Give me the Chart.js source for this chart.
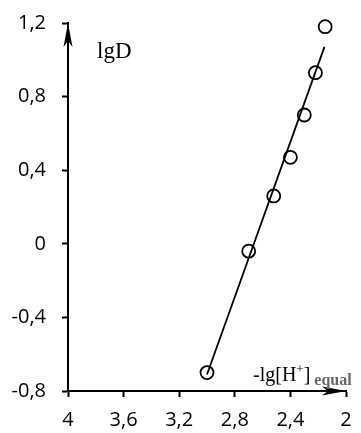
<!DOCTYPE html>
<html>
<head>
<meta charset="utf-8">
<script src="https://cdn.jsdelivr.net/npm/chart.js@4"></script>
<style>
  html, body { margin: 0; padding: 0; background: #fff; }
  #wrap { width: 361px; height: 433px; }
</style>
</head>
<body>
<div id="wrap"><canvas id="chart"></canvas></div>
<script>
// data
const pointsX = [3.0, 2.70, 2.52, 2.40, 2.30, 2.22, 2.15];
const pointsY = [-0.70, -0.04, 0.26, 0.47, 0.70, 0.93, 1.18];
const fitX = [3.0, 2.155];
const fitY = [-0.71, 1.07];
const xTicks = [4, 3.6, 3.2, 2.8, 2.4, 2];
const yTicks = [-0.8, -0.4, 0, 0.4, 0.8, 1.2];

const fmt = v => String(Number(v.toFixed(1))).replace('.', ',');

// Axis arrows + axis titles
const decor = {
    id: 'decor',
    afterDraw(chart) {
        const ctx = chart.ctx;
        const a = chart.chartArea;
        ctx.save();
        ctx.fillStyle = '#000';
        // y arrow (up)
        ctx.beginPath();
        ctx.moveTo(a.left, a.top);
        ctx.lineTo(a.left - 4.5, a.top + 24);
        ctx.lineTo(a.left, a.top + 18);
        ctx.lineTo(a.left + 4.5, a.top + 24);
        ctx.closePath();
        ctx.fill();
        // x arrow (right)
        ctx.beginPath();
        ctx.moveTo(a.right, a.bottom);
        ctx.lineTo(a.right - 24, a.bottom - 4.5);
        ctx.lineTo(a.right - 18, a.bottom);
        ctx.lineTo(a.right - 24, a.bottom + 4.5);
        ctx.closePath();
        ctx.fill();

        // lgD
        ctx.font = '23px "Liberation Serif"';
        ctx.textBaseline = 'alphabetic';
        ctx.fillText('lgD', a.left + 29, a.top + 35);

        // -lg[H+] equal
        let x = 253, y = 381;
        ctx.font = '20px "Liberation Serif"';
        ctx.fillText('-lg[H', x, y);
        x += ctx.measureText('-lg[H').width;
        ctx.font = '13px "Liberation Serif"';
        ctx.fillText('+', x, y - 8);
        x += ctx.measureText('+').width;
        ctx.font = '20px "Liberation Serif"';
        ctx.fillText(']', x, y);
        x += ctx.measureText(']').width + 4;
        ctx.fillStyle = '#666';
        ctx.font = 'bold 16px "Liberation Serif"';
        ctx.fillText('equal', x, y + 4);
        ctx.restore();
    }
};

const axisStyle = {
    grid: {
        drawOnChartArea: false,
        drawTicks: true,
        tickLength: 6,
        tickColor: '#000',
        tickWidth: 2
    },
    border: { display: true, color: '#000', width: 2 }
};

new Chart(document.getElementById('chart').getContext('2d'), {
    type: 'scatter',
    data: {
        datasets: [
            {
                data: fitX.map((v, i) => ({ x: v, y: fitY[i] })),
                showLine: true,
                borderColor: '#000',
                borderWidth: 1.8,
                pointRadius: 0,
                clip: false
            },
            {
                data: pointsX.map((v, i) => ({ x: v, y: pointsY[i] })),
                pointStyle: 'circle',
                pointRadius: 6.5,
                pointBorderWidth: 1.8,
                borderColor: '#000',
                backgroundColor: 'rgba(0,0,0,0)',
                clip: false
            }
        ]
    },
    options: {
        responsive: true,
        maintainAspectRatio: false,
        animation: false,
        layout: { padding: { left: 0, right: 15, top: 23, bottom: 0 } },
        plugins: { legend: { display: false }, tooltip: { enabled: false } },
        scales: {
            x: {
                ...axisStyle,
                type: 'linear',
                reverse: true,
                min: 2,
                max: 4,
                afterBuildTicks: s => { s.ticks = xTicks.map(v => ({ value: v })); },
                afterFit: s => { s.height = 42; s.paddingLeft = 0; s.paddingRight = 0; },
                ticks: {
                    color: '#000',
                    padding: 11,
                    maxRotation: 0,
                    font: { family: 'Open Sans', size: 20 },
                    callback: v => fmt(v)
                }
            },
            y: {
                ...axisStyle,
                min: -0.8,
                max: 1.2,
                afterBuildTicks: s => { s.ticks = yTicks.map(v => ({ value: v })); },
                afterFit: s => { s.width = 68; s.paddingTop = 0; s.paddingBottom = 0; },
                ticks: {
                    color: '#000',
                    padding: 16,
                    font: { family: 'Open Sans', size: 20 },
                    callback: v => fmt(v)
                }
            }
        }
    },
    plugins: [decor]
});
</script>
</body>
</html>
